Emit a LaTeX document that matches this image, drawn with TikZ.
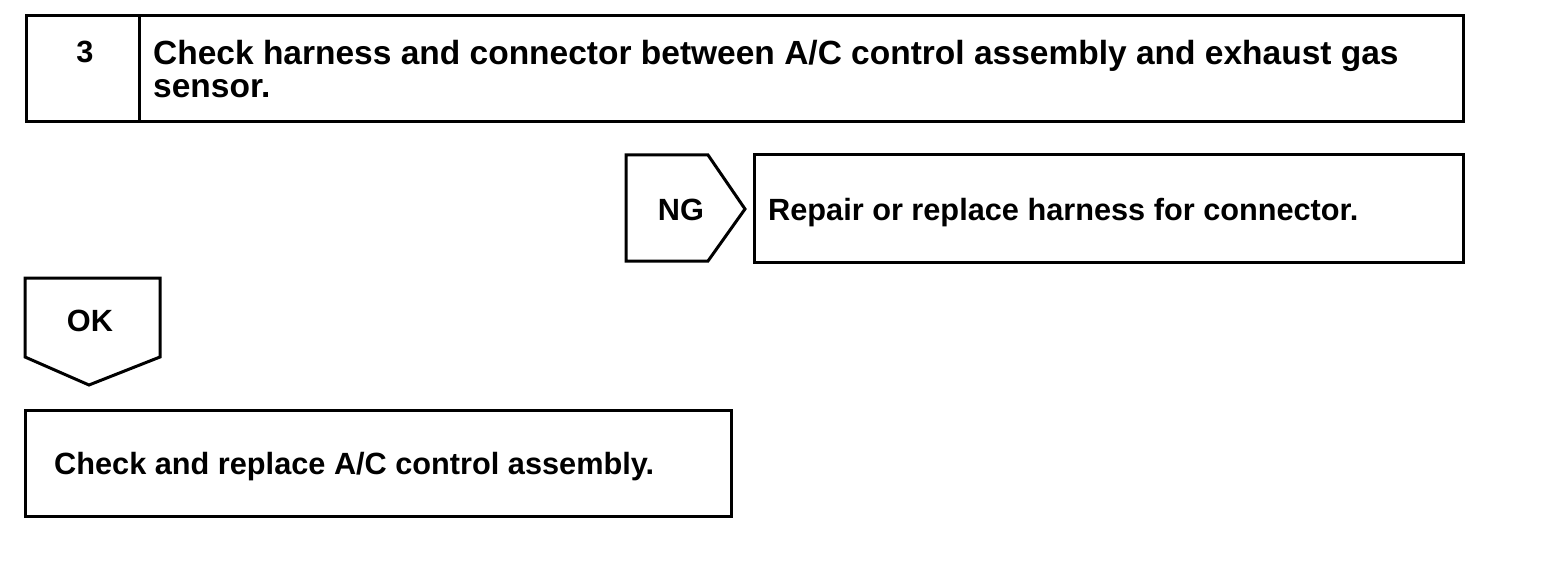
\documentclass[tikz,border=0pt]{standalone}
\usepackage{fontspec}
\setmainfont{Liberation Sans}
\begin{document}
\begin{tikzpicture}[x=1pt,y=-1pt,
  frame/.style={draw=black, line width=3pt, line join=miter},
  big/.style={font=\bfseries\fontsize{33.5}{33}\selectfont},
  txt/.style={font=\bfseries\fontsize{30.7}{33}\selectfont},
  lbl/.style={inner sep=0pt, anchor=base west}]
\useasboundingbox (0,0) rectangle (1568,580);
% step box
\draw[frame] (26,16) rectangle (1463,122);
\draw[frame] (139,16) -- (139,122);
\node[txt, inner sep=0pt, anchor=base] (num) at (85,63) {3};
\node[big, inner sep=0pt, anchor=base west, align=left] (head) at (153,65) {Check harness and connector between A/C control assembly and exhaust gas};
\node[big, lbl] (head2) at (153,98) {sensor.};
% NG
\draw[frame] (626,155) -- (708,155) -- (745,209) -- (708,261) -- (626,261) -- cycle;
\node[txt, inner sep=0pt, anchor=base] (ng) at (681,221) {NG};
\draw[frame] (754,155) rectangle (1463,262);
\node[txt, lbl] (repair) at (768,221) {Repair or replace harness for connector.};
% OK
\draw[frame] (25,278) -- (160,278) -- (160,357) -- (89,385) -- (25,357) -- cycle;
\node[txt, inner sep=0pt, anchor=base] (ok) at (90,331) {OK};
\draw[frame] (25,410) rectangle (731,516);
\node[txt, lbl] (final) at (54,474) {Check and replace A/C control assembly.};
\end{tikzpicture}
\end{document}
